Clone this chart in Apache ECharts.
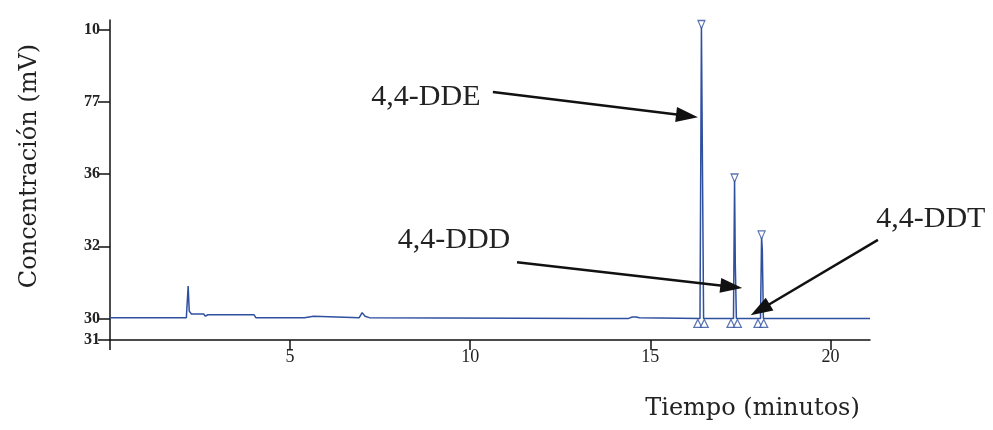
<!DOCTYPE html>
<html>
<head>
<meta charset="utf-8">
<script src="https://cdn.jsdelivr.net/npm/echarts@6/dist/echarts.min.js"></script>
<style>
html, body { margin: 0; padding: 0; background: #fff; }
#chart { width: 993px; height: 430px; }
</style>
</head>
<body>
<div id="chart"></div>
<script>
// chromatogram trace (time in minutes, signal in axis units)
var timeData = [0, 2.12, 2.17, 2.2, 2.26, 2.6, 2.65, 2.72, 2.9, 3.5, 3.55, 3.62, 4.0, 4.05, 5.4, 5.45, 5.65, 5.7, 6.92, 7.0, 7.08, 7.2,
    13.5, 13.55, 13.6, 14.4, 14.5, 14.6, 14.7, 16.38, 16.42, 16.45, 16.48, 17.31, 17.34, 17.36, 17.39, 18.06, 18.09, 18.11, 18.14, 21.1];
var signalData = [0.01, 0.01, 0.45, 0.1, 0.06, 0.06, 0.03, 0.05, 0.05, 0.05, 0.03, 0.05, 0.05, 0.01, 0.01, 0.03, 0.03, 0.01, 0.01, 0.08, 0.03, 0.01,
    0.0, 0.02, 0.0, 0.0, 0.02, 0.02, 0.01, 0.0, 4.05, 2.0, 0.0, 0.0, 1.92, 0.76, 0.0, 0.0, 1.13, 0.95, 0.0, 0.0];

// peak apex markers and integration base markers
var peakTimes = [16.42, 17.34, 18.09];
var peakHeights = [4.05, 1.92, 1.13];
var baseTimes = [16.32, 16.5, 17.24, 17.42, 17.99, 18.15];

// axis ticks
var xTicks = [0, 5, 10, 15, 20];
var xTickLabels = ['', '5', '10', '15', '20'];
var yTicks = [-0.3, 0, 1, 2, 3, 4];
var yTickLabels = ['31', '30', '32', '36', '77', '10'];

// annotations (same units as the axes)
var labels = ['4,4-DDE', '4,4-DDD', '4,4-DDT'];
var labelPos = [[8.77, 3.07], [9.55, 1.09], [22.79, 1.38]];
var arrowFrom = [[10.63, 3.14], [11.3, 0.78], [21.32, 1.09]];
var arrowTo = [[16.02, 2.81], [17.25, 0.44], [18.05, 0.12]];

var W = 993, H = 430;
var gl = 110, gr = 123, gt = 20, gb = 90;
var xMin = 0, xMax = 21.1, yMin = -0.3, yMax = 4.14;

var blue = '#2f4f9f';
var serif = 'Liberation Serif';

// overlay grid spans the whole canvas with the same scale, so notes can sit outside the plot
var kx = (xMax - xMin) / (W - gl - gr);
var ky = (yMax - yMin) / (H - gt - gb);
var oxMin = xMin - gl * kx, oxMax = xMax + gr * kx;
var oyMin = yMin - gb * ky, oyMax = yMax + gt * ky;

var trace = timeData.map(function (t, i) { return [t, signalData[i]]; });
var tops = peakTimes.map(function (t, i) { return [t, peakHeights[i]]; });
var bases = baseTimes.map(function (t) { return [t, -0.07]; });

var arrows = arrowFrom.map(function (p, i) {
    return [{ coord: p }, { coord: arrowTo[i] }];
});
var texts = labels.map(function (s, i) {
    return { coord: labelPos[i], value: s };
});

var option = {
    backgroundColor: '#fff',
    animation: false,
    grid: [
        { left: gl, right: gr, top: gt, bottom: gb },
        { left: 0, right: 0, top: 0, bottom: 0 }
    ],
    xAxis: [{
        type: 'value',
        min: xMin,
        max: xMax,
        name: 'Tiempo (minutos)',
        nameLocation: 'middle',
        nameGap: 57,
        nameTextStyle: { fontFamily: 'DejaVu Serif', fontSize: 24, color: '#222', padding: [0, 0, 0, 525] },
        splitLine: { show: false },
        axisLine: { onZero: false, lineStyle: { color: '#111', width: 1.5 } },
        axisTick: { customValues: xTicks, length: 10, lineStyle: { color: '#111', width: 1.5 } },
        axisLabel: {
            customValues: xTicks,
            margin: 8,
            fontFamily: serif,
            fontSize: 18,
            color: '#222',
            formatter: function (v) { return xTickLabels[xTicks.indexOf(v)] || ''; }
        }
    }, {
        type: 'value', gridIndex: 1, min: oxMin, max: oxMax, show: false
    }],
    yAxis: [{
        type: 'value',
        min: yMin,
        max: yMax,
        name: 'Concentración (mV)',
        nameLocation: 'middle',
        nameGap: 68,
        nameTextStyle: { fontFamily: 'DejaVu Serif', fontSize: 24, color: '#222', padding: [0, 0, 0, 28] },
        splitLine: { show: false },
        axisLine: { lineStyle: { color: '#111', width: 1.5 } },
        axisTick: { customValues: yTicks, length: 12, lineStyle: { color: '#111', width: 1.5 } },
        axisLabel: {
            customValues: yTicks,
            margin: 10,
            fontFamily: serif,
            fontSize: 16,
            fontWeight: 'bold',
            color: '#222',
            formatter: function (v) {
                for (var i = 0; i < yTicks.length; i++) {
                    if (Math.abs(yTicks[i] - v) < 1e-6) return yTickLabels[i];
                }
                return '';
            }
        }
    }, {
        type: 'value', gridIndex: 1, min: oyMin, max: oyMax, show: false
    }],
    series: [
        {
            type: 'line',
            data: trace,
            showSymbol: false,
            lineStyle: { color: blue, width: 1.5 },
            z: 3
        },
        {
            type: 'scatter',
            data: tops,
            symbol: 'triangle',
            symbolRotate: 180,
            symbolSize: [7, 8],
            symbolOffset: [0, -2],
            itemStyle: { color: '#fff', borderColor: blue, borderWidth: 1.2 },
            z: 4
        },
        {
            type: 'scatter',
            data: bases,
            symbol: 'triangle',
            symbolSize: [8, 8],
            itemStyle: { color: '#fff', borderColor: blue, borderWidth: 1.2 },
            z: 4
        },
        {
            type: 'line',
            xAxisIndex: 1,
            yAxisIndex: 1,
            data: [],
            silent: true,
            markLine: {
                silent: true,
                symbol: ['none', 'triangle'],
                symbolSize: [15, 22],
                lineStyle: { color: '#111', width: 2.5, type: 'solid' },
                label: { show: false },
                data: arrows
            },
            markPoint: {
                silent: true,
                symbol: 'circle',
                symbolSize: 0,
                label: {
                    show: true,
                    position: 'inside',
                    fontFamily: serif,
                    fontSize: 30,
                    color: '#222',
                    formatter: function (p) { return p.value; }
                },
                data: texts
            }
        }
    ]
};

var myChart = echarts.init(document.getElementById('chart'));
myChart.setOption(option);
</script>
</body>
</html>
